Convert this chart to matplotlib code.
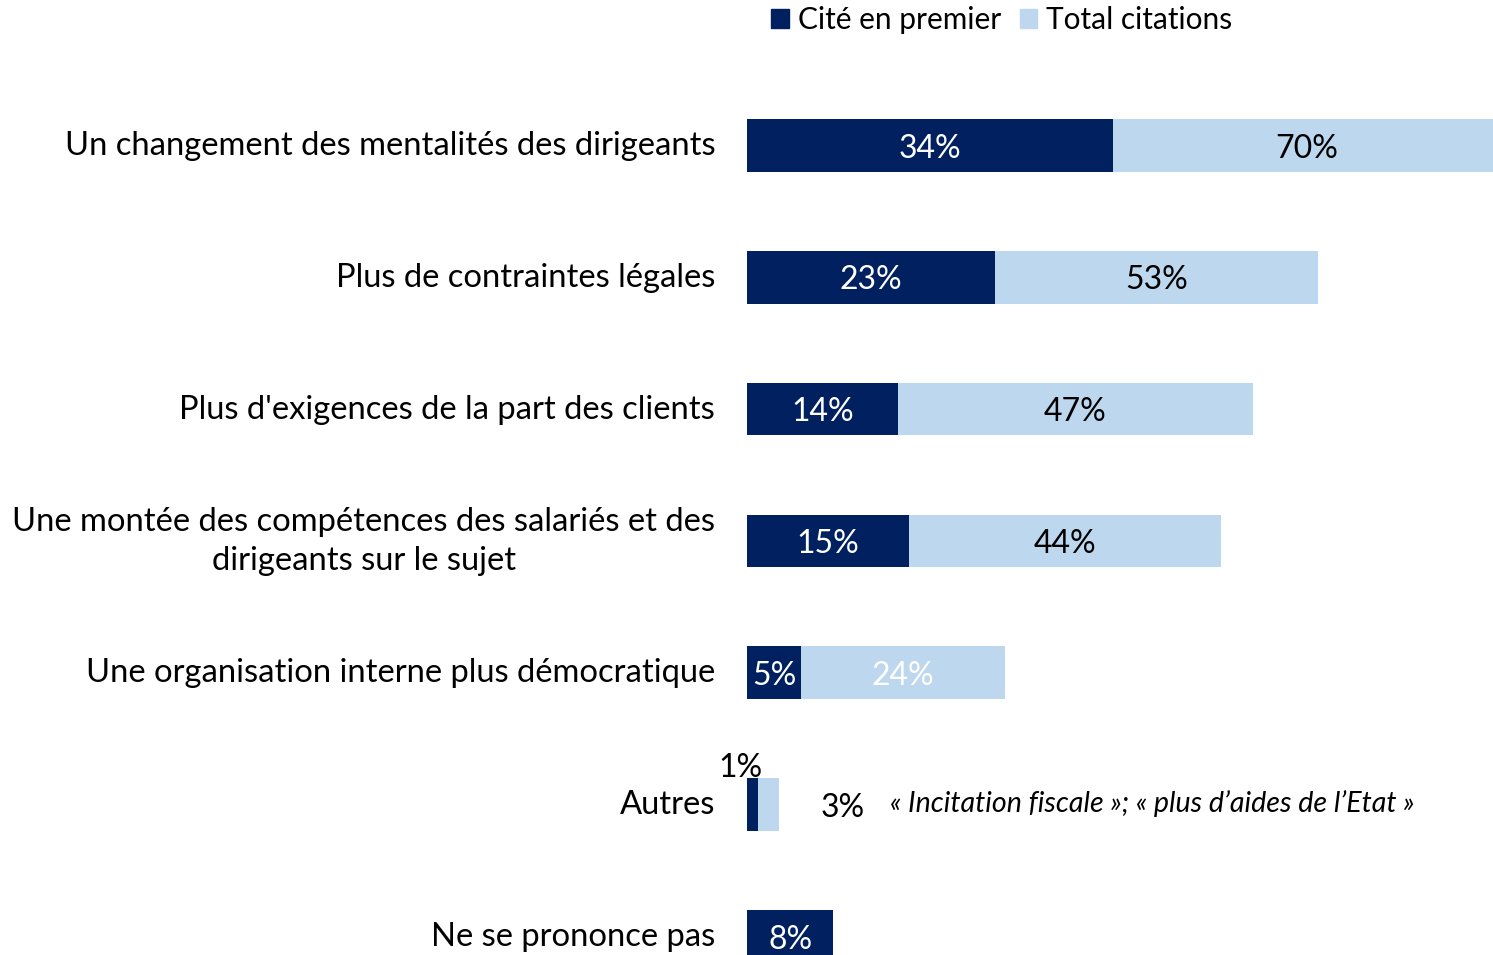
import matplotlib
matplotlib.use("Agg")
import matplotlib.pyplot as plt
from matplotlib.patches import Patch
import numpy as np

# ------------------------------------
# Data
# ------------------------------------
categories = [
    "Un changement des mentalités des dirigeants",
    "Plus de contraintes légales",
    "Plus d'exigences de la part des clients",
    "Une montée des compétences des salariés et des\ndirigeants sur le sujet",
    "Une organisation interne plus démocratique",
    "Autres",
    "Ne se prononce pas",
]
first_cited = [34, 23, 14, 15, 5, 1, 8]
total_cited = [70, 53, 47, 44, 24, 3, np.nan]
series_names = ["Cité en premier", "Total citations"]
autres_note = "« Incitation fiscale »; « plus d’aides de l’Etat »"

dark = "#002060"
light = "#BDD7EE"

plt.rcParams["font.family"] = ["Lato", "DejaVu Sans"]

# ------------------------------------
# Figure
# ------------------------------------
fig = plt.figure(figsize=(14.93, 9.55), dpi=100)
ax = fig.add_axes([747 / 1493, 0, 1 - 747 / 1493, 1])

y = np.arange(len(categories))
h = 0.4
ax.barh(y, total_cited, height=h, color=light, label=series_names[1])
ax.barh(y, first_cited, height=h, color=dark, label=series_names[0])

ax.set_xlim(0, 69.27)
ax.set_ylim(6.14, -1.102)
ax.axis("off")

# category labels
for yi, cat in zip(y, categories):
    ax.text(-2.95, yi + 0.005, cat, ha="right", va="center", fontsize=23.6,
            multialignment="center", linespacing=1.38, color="black")

# value labels
val_fs = 23
dy = 0.025
for i, (f, t) in enumerate(zip(first_cited, total_cited)):
    if categories[i] == "Autres":
        ax.text(-0.65, i - 0.28, f"{f}%", ha="center", va="center",
                fontsize=val_fs, color="black")
        ax.text(8.9, i + dy, f"{int(t)}%", ha="center", va="center",
                fontsize=val_fs, color="black")
        ax.text(13.3, i - 0.01, autres_note, ha="left", va="center",
                fontsize=20.6, style="italic", color="black")
        continue
    ax.text(f / 2, i + dy, f"{f}%", ha="center", va="center",
            fontsize=val_fs, color="white")
    if not np.isnan(t):
        col = "white" if t < 30 else "black"
        ax.text((f + t) / 2, i + dy, f"{int(t)}%", ha="center",
                va="center", fontsize=val_fs, color=col)

# legend
handles = [Patch(color=dark), Patch(color=light)]
fig.legend(handles, series_names, loc="center", ncol=2,
           bbox_to_anchor=(1002 / 1493, 1 - 20 / 955), frameon=False,
           fontsize=21.5, handlelength=0.6, handleheight=0.6,
           handletextpad=0.3, columnspacing=0.6, borderpad=0)

fig.savefig("out.png", dpi=100)
